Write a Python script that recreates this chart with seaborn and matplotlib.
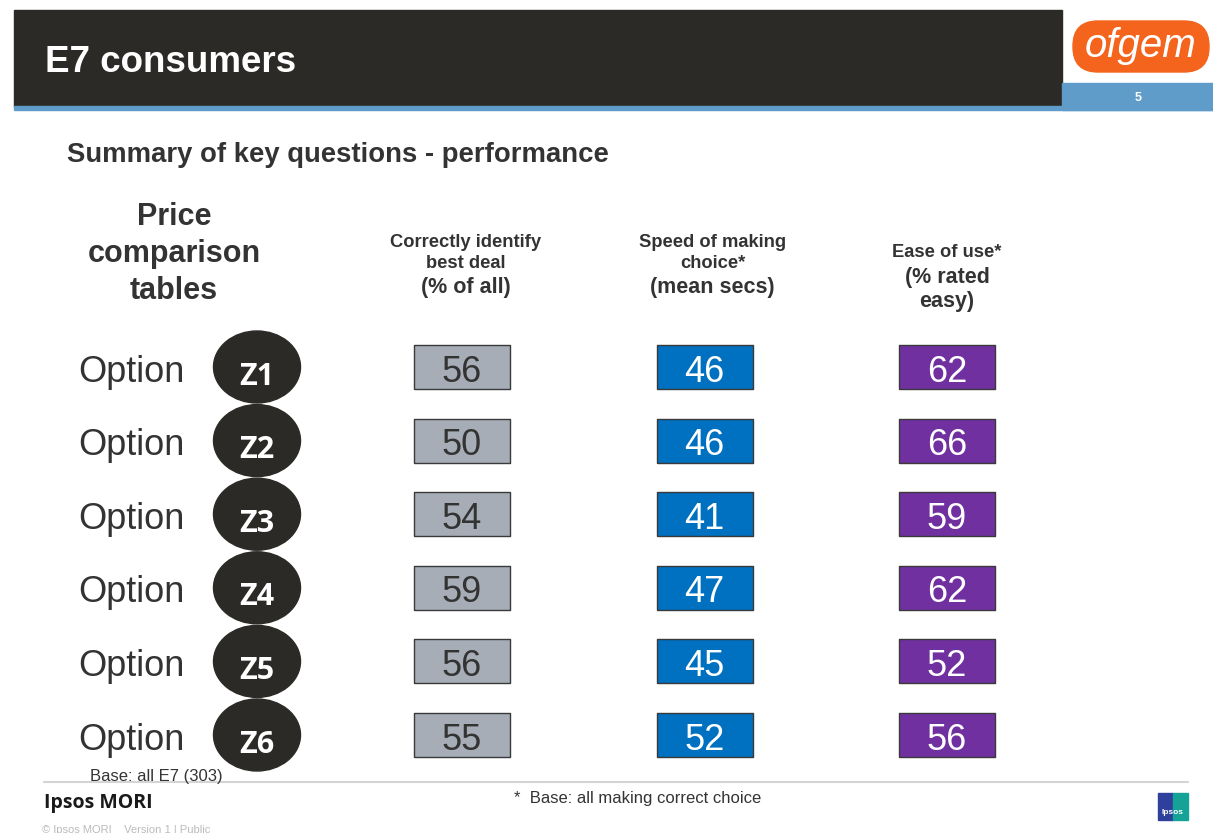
import numpy as np
import pandas as pd
import matplotlib
matplotlib.use("Agg")
import matplotlib.pyplot as plt
from matplotlib.patches import Rectangle, FancyBboxPatch, Ellipse
import seaborn as sns

# ---------------- data ----------------
options = ["Z1", "Z2", "Z3", "Z4", "Z5", "Z6"]
metrics = ["Correctly identify best deal", "Speed of making choice", "Ease of use"]
correct_pct = [56, 50, 54, 59, 56, 55]
speed_secs = [46, 46, 41, 47, 45, 52]
ease_pct = [62, 66, 59, 62, 52, 56]
header_small = [["Correctly identify", "best deal"], ["Speed of making", "choice*"], ["Ease of use*"]]
header_big = [["(% of all)"], ["(mean secs)"], ["(% rated", "easy)"]]

df = pd.DataFrame({
    "option": options * 3,
    "metric": [metrics[0]] * 6 + [metrics[1]] * 6 + [metrics[2]] * 6,
    "value": correct_pct + speed_secs + ease_pct,
})

# ---------------- style ----------------
sns.set_theme(style="white")
plt.rcParams["font.family"] = ["Liberation Sans", "DejaVu Sans"]

W, H, DPI = 1213, 833, 100
fig = plt.figure(figsize=(W / DPI, H / DPI), dpi=DPI)
fig.patch.set_facecolor("white")

# background axes in pixel coordinates for decoration
bg = fig.add_axes([0, 0, 1, 1])
bg.set_xlim(0, W)
bg.set_ylim(H, 0)
bg.axis("off")

TXT = "#333333"
# header bar
bg.add_patch(Rectangle((14, 10), 1048, 97, color="#2b2a26", zorder=1))
bg.add_patch(Rectangle((14, 106), W - 14, 4, color="#5f9cc9", zorder=1))
bg.add_patch(Rectangle((1062, 83), W - 1062, 27, color="#5f9cc9", zorder=1))
bg.text(45, 62, "E7 consumers", color="white", fontsize=26.5, fontweight="bold",
        va="center", ha="left")
bg.text(1138, 98, "5", color="white", fontsize=9, fontweight="bold",
        va="center", ha="center")
# ofgem logo
bg.add_patch(FancyBboxPatch((1073, 21), 136, 51, boxstyle="round,pad=0,rounding_size=25",
                            color="#f4641c", zorder=2))
bg.text(1141, 46, "ofgem", color="white", fontsize=29, style="italic",
        va="center", ha="center", zorder=3)

# subtitle
bg.text(67, 155, "Summary of key questions - performance", color=TXT, fontsize=19.8,
        fontweight="bold", va="center", ha="left")
for k, line in enumerate(["Price", "comparison", "tables"]):
    bg.text(174, 217 + 37 * k, line, color=TXT, fontsize=22,
            fontweight="bold", va="center", ha="center")

# footer
bg.plot([44, 1188], [782, 782], color="#d4d4d4", lw=1.5)
bg.text(90, 776, "Base: all E7 (303)", color=TXT, fontsize=12, va="center", ha="left")
bg.text(514, 798, "*  Base: all making correct choice", color=TXT, fontsize=12,
        va="center", ha="left")
bg.text(44, 803, "Ipsos MORI", color="#1a1a1a", fontsize=14, fontweight="bold",
        va="center", ha="left", family=["Open Sans", "DejaVu Sans"])
bg.text(42, 830, "\u00a9 Ipsos MORI    Version 1 | Public", color="#bbbbbb",
        fontsize=8, va="center", ha="left")
bg.add_patch(Rectangle((1158, 793), 15, 27, color="#2e3f9c", zorder=2))
bg.add_patch(Rectangle((1173, 793), 15, 27, color="#16a397", zorder=2))
bg.text(1173, 813, "Ipsos", color="white", fontsize=6, fontweight="bold",
        ha="center", va="center", zorder=3)

# ---------------- main categorical axes ----------------
ax = fig.add_axes([0, 0, 1, 1])
ax.patch.set_alpha(0)
col_px = 242.5     # pixel spacing between metric columns
row_px = 73.6      # pixel spacing between option rows
x0_px, y0_px = 462, 367   # pixel centre of first cell

rect = [(-1, -0.46), (1, -0.46), (1, 0.46), (-1, 0.46), (-1, -0.46)]
palette = {metrics[0]: "#a6adb6", metrics[1]: "#0070c0", metrics[2]: "#7030a0"}
box_w_pt = 96 * 72 / DPI
sns.scatterplot(data=df, x="metric", y="option", hue="metric", palette=palette,
                marker=rect, s=box_w_pt ** 2, edgecolor="#3a3a3a", linewidth=1,
                legend=False, ax=ax, zorder=3)

ax.set_xlim(-x0_px / col_px, (W - x0_px) / col_px)
ax.set_ylim((H - y0_px) / row_px, -y0_px / row_px)
ax.axis("off")

text_col = {metrics[0]: TXT, metrics[1]: "white", metrics[2]: "white"}
for _, r in df.iterrows():
    xx = ax.xaxis.convert_units(r["metric"])
    yy = ax.yaxis.convert_units(r["option"])
    ax.text(xx, yy + 0.07, str(r["value"]), color=text_col[r["metric"]], fontsize=26,
            ha="center", va="center", zorder=4)

# column headers
head_off = [4, 8, 0]
for i, m in enumerate(metrics):
    xx = ax.xaxis.convert_units(m)
    xpx = x0_px + xx * col_px + head_off[i]
    ys = 242 if i < 2 else 252
    for k, line in enumerate(header_small[i]):
        bg.text(xpx, ys + 22 * k, line, color=TXT, fontsize=13.2,
                fontweight="bold", ha="center", va="center")
    yb = 288 if i < 2 else 277
    for k, line in enumerate(header_big[i]):
        bg.text(xpx, yb + 25 * k, line, color=TXT, fontsize=15.5,
                fontweight="bold", ha="center", va="center")

# option labels & ellipses
ell_x = (257 - x0_px) / col_px
opt_x = (78 - x0_px) / col_px
for o in options:
    yy = ax.yaxis.convert_units(o)
    ax.add_patch(Ellipse((ell_x, yy), 87 / col_px, 72 / row_px, color="#2b2a26", zorder=2))
    ax.text(ell_x, yy + 0.13, o, color="white", fontsize=22, fontweight="bold",
            ha="center", va="center", zorder=3, family=["Open Sans", "DejaVu Sans"])
    ax.text(opt_x, yy + 0.07, "Option", color=TXT, fontsize=26, ha="left", va="center", zorder=3)

fig.savefig("out.png", dpi=DPI, facecolor="white")
